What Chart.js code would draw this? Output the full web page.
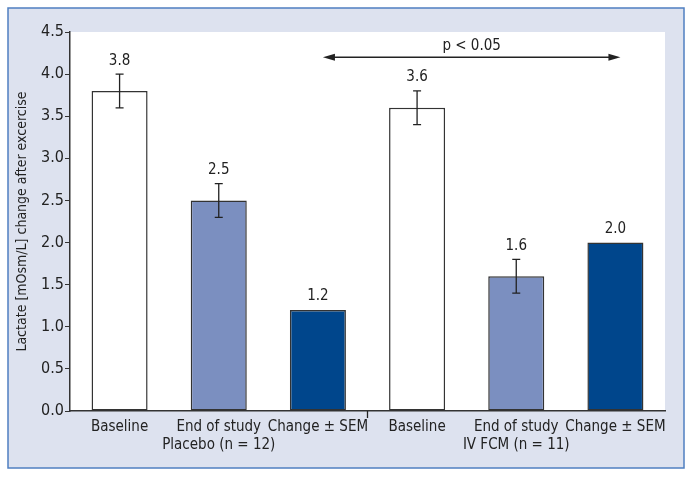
<!DOCTYPE html>
<html>
<head>
<meta charset="utf-8">
<script src="https://cdn.jsdelivr.net/npm/chart.js@4.4.0/dist/chart.umd.min.js"></script>
<style>
  html, body { margin: 0; padding: 0; background: #ffffff; }
  #wrap { width: 693px; height: 478px; }
</style>
</head>
<body>
<div id="wrap"><canvas id="chart" width="693" height="478"></canvas></div>
<script>
const labels = [
    "Baseline",
    ["End of study", "Placebo (n = 12)"],
    "Change \u00b1 SEM",
    "Baseline",
    ["End of study", "IV FCM (n = 11)"],
    "Change \u00b1 SEM"
];
const values = [3.8, 2.5, 1.2, 3.6, 1.6, 2.0];
const errLow = [3.6, 2.3, null, 3.4, 1.4, null];
const errHigh = [4.0, 2.7, null, 3.8, 1.8, null];
const barColors = ["#ffffff", "#7b8fc0", "#00468c", "#ffffff", "#7b8fc0", "#00468c"];
const pText = "p < 0.05";
const pLevel = 4.2;

const FONT = "'DejaVu Sans Condensed', 'Liberation Sans Narrow', 'Liberation Sans', sans-serif";

// frame behind everything
const framePlugin = {
    id: "frame",
    beforeDraw(chart) {
        const ctx = chart.ctx;
        const a = chart.chartArea;
        ctx.save();
        ctx.fillStyle = "#dde2ef";
        ctx.fillRect(8, 8, 676, 460);
        ctx.strokeStyle = "#4f7fc1";
        ctx.lineWidth = 1.5;
        ctx.strokeRect(8, 8, 676, 460);
        ctx.fillStyle = "#ffffff";
        ctx.fillRect(a.left, a.top, a.right - a.left, a.bottom - a.top);
        ctx.restore();
    }
};

// error bars, value labels, arrow, group tick
const extrasPlugin = {
    id: "extras",
    afterDatasetsDraw(chart) {
        const ctx = chart.ctx;
        const x = chart.scales.x, y = chart.scales.y;
        ctx.save();
        ctx.strokeStyle = "#222";
        ctx.lineWidth = 1.3;
        for (let i = 0; i < values.length; i++) {
            const cx = x.getPixelForValue(i);
            let topVal = values[i];
            if (errLow[i] != null) {
                const y1 = y.getPixelForValue(errLow[i]);
                const y2 = y.getPixelForValue(errHigh[i]);
                ctx.beginPath();
                ctx.moveTo(cx, y1); ctx.lineTo(cx, y2);
                ctx.moveTo(cx - 4, y1); ctx.lineTo(cx + 4, y1);
                ctx.moveTo(cx - 4, y2); ctx.lineTo(cx + 4, y2);
                ctx.stroke();
                topVal = errHigh[i];
            }
            ctx.fillStyle = "#222";
            ctx.font = "15px " + FONT;
            ctx.textAlign = "center";
            ctx.textBaseline = "bottom";
            ctx.fillText(values[i].toFixed(1), cx, y.getPixelForValue(topVal) - 6);
        }

        // arrow
        const ay = y.getPixelForValue(pLevel);
        const ax1 = x.getPixelForValue(2) + 5;
        const ax2 = x.getPixelForValue(5) + 5;
        ctx.beginPath();
        ctx.moveTo(ax1 + 8, ay); ctx.lineTo(ax2 - 8, ay);
        ctx.stroke();
        ctx.fillStyle = "#222";
        ctx.beginPath();
        ctx.moveTo(ax1, ay); ctx.lineTo(ax1 + 12, ay - 3.5); ctx.lineTo(ax1 + 12, ay + 3.5); ctx.closePath();
        ctx.fill();
        ctx.beginPath();
        ctx.moveTo(ax2, ay); ctx.lineTo(ax2 - 12, ay - 3.5); ctx.lineTo(ax2 - 12, ay + 3.5); ctx.closePath();
        ctx.fill();
        ctx.font = "15px " + FONT;
        ctx.textAlign = "center";
        ctx.textBaseline = "bottom";
        ctx.fillText(pText, (ax1 + ax2) / 2, ay - 4);

        // group separator tick
        const gx = (x.getPixelForValue(2) + x.getPixelForValue(3)) / 2;
        ctx.beginPath();
        ctx.moveTo(gx, y.bottom); ctx.lineTo(gx, y.bottom + 7);
        ctx.stroke();
        ctx.restore();
    }
};

new Chart("chart", {
    type: "bar",
    data: {
        labels: labels,
        datasets: [{
            data: values,
            backgroundColor: barColors,
            borderColor: "#333333",
            borderWidth: 1.5,
            borderSkipped: false,
            barPercentage: 0.565,
            categoryPercentage: 1.0
        }]
    },
    options: {
        responsive: false,
        animation: false,
        devicePixelRatio: 1,
        layout: { padding: { top: 32, right: 28, bottom: 0, left: 0 } },
        plugins: {
            legend: { display: false },
            tooltip: { enabled: false }
        },
        scales: {
            x: {
                grid: { display: false, drawTicks: false },
                border: { color: "#333", width: 1.5 },
                ticks: {
                    color: "#222",
                    font: { family: FONT, size: 15 },
                    padding: 7,
                    maxRotation: 0,
                    autoSkip: false
                },
                afterFit(scale) { scale.height = 67; }
            },
            y: {
                min: 0,
                max: 4.5,
                grid: { drawOnChartArea: false, tickLength: 5, color: "#333" },
                border: { color: "#333", width: 1.5 },
                ticks: {
                    stepSize: 0.5,
                    color: "#222",
                    padding: 1,
                    font: { family: FONT, size: 16 },
                    callback: v => v.toFixed(1)
                },
                title: {
                    display: true,
                    text: "Lactate [mOsm/L] change after excercise",
                    color: "#222",
                    font: { family: FONT, size: 14 },
                    padding: { top: 14, bottom: 4 }
                },
                afterFit(scale) { scale.width = 70; }
            }
        }
    },
    plugins: [framePlugin, extrasPlugin]
});
</script>
</body>
</html>
